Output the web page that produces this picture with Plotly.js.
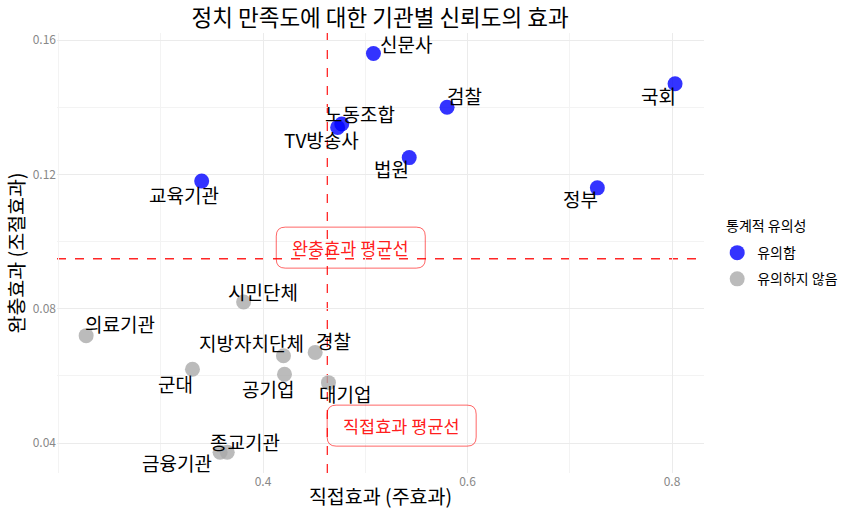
<!DOCTYPE html>
<html>
<head>
<meta charset="utf-8">
<script src="https://cdn.plot.ly/plotly-3.0.1.min.js"></script>
<style>
  html, body { margin: 0; padding: 0; background: #fff; }
  #chart { width: 860px; height: 516px; }
</style>
</head>
<body>
<div id="chart"></div>
<script>
// ---- data ----
const institutions = ['신문사', '검찰', '국회', '노동조합', 'TV방송사', '법원', '정부', '교육기관',
  '시민단체', '의료기관', '지방자치단체', '경찰', '군대', '공기업', '대기업', '종교기관', '금융기관'];
const directEffect = [0.508, 0.580, 0.803, 0.477, 0.473, 0.543, 0.727, 0.340,
  0.381, 0.227, 0.420, 0.451, 0.331, 0.421, 0.464, 0.365, 0.358];
const bufferEffect = [0.156, 0.140, 0.147, 0.135, 0.134, 0.125, 0.116, 0.118,
  0.082, 0.072, 0.066, 0.067, 0.062, 0.0605, 0.058, 0.0373, 0.0373];
const significance = ['유의함', '유의함', '유의함', '유의함', '유의함', '유의함', '유의함', '유의함',
  '유의하지 않음', '유의하지 않음', '유의하지 않음', '유의하지 않음', '유의하지 않음', '유의하지 않음',
  '유의하지 않음', '유의하지 않음', '유의하지 않음'];
const groups = ['유의함', '유의하지 않음'];
const legendTitle = '통계적 유의성';
const xTicks = [0.4, 0.6, 0.8];
const yTicks = [0.04, 0.08, 0.12, 0.16];

// ---- styling / layout helpers ----
const FONT = '"Noto Sans CJK KR", "Noto Sans", sans-serif';
const groupColor = { '유의함': 'rgba(0,0,255,0.8)', '유의하지 않음': 'rgba(170,170,170,0.8)' };
// label offsets in screen pixels [dx, dy(down)]
const labelOffset = {
  '신문사': [33, -10], '검찰': [17, -12], '국회': [-17, 12], '노동조합': [18, -11],
  'TV방송사': [-16, 12], '법원': [-18, 11], '정부': [-17, 11], '교육기관': [-18, 13],
  '시민단체': [19, -11], '의료기관': [34, -12], '지방자치단체': [-32, -13], '경찰': [18, -12],
  '군대': [-17, 14], '공기업': [-16, 14], '대기업': [17, 11], '종교기관': [18, -11], '금융기관': [-43, 10]
};

const mean = a => a.reduce((s, v) => s + v, 0) / a.length;
const meanX = mean(directEffect);
const meanY = mean(bufferEffect);

const traces = groups.map((g, gi) => {
  const idx = significance.map((s, i) => s === g ? i : -1).filter(i => i >= 0);
  return {
    type: 'scatter', mode: 'markers', name: g, legendgroup: 'g' + gi,
    x: idx.map(i => directEffect[i]),
    y: idx.map(i => bufferEffect[i]),
    text: idx.map(i => institutions[i]),
    marker: { color: groupColor[g], size: 15, line: { width: 0 } },
    hoverinfo: 'text'
  };
});

const annotations = institutions.map((name, i) => ({
  x: directEffect[i], y: bufferEffect[i], xref: 'x', yref: 'y',
  text: name, showarrow: false, xanchor: 'center', yanchor: 'middle',
  xshift: labelOffset[name][0], yshift: -labelOffset[name][1],
  font: { family: FONT, size: 19, color: '#000' }
}));

const boxLabels = [
  { text: '완충효과 평균선', x: 0.4858, y: 0.0982 },
  { text: '직접효과 평균선', x: 0.5356, y: 0.0452 }
];
boxLabels.forEach(b => annotations.push({
  x: b.x, y: b.y, xref: 'x', yref: 'y', text: b.text, showarrow: false,
  xanchor: 'center', yanchor: 'middle',
  font: { family: FONT, size: 17.5, color: 'rgba(255,0,0,0.9)' }
}));

// legend title as annotation for precise placement
annotations.push({
  xref: 'paper', yref: 'paper', x: 1.031, y: 0.5636, xanchor: 'left', yanchor: 'middle',
  text: legendTitle, showarrow: false, font: { family: FONT, size: 14, color: '#000' }
});

function roundedRect(w, h, r) {
  const a = w / 2, b = h / 2;
  return `M ${-a + r},${-b} L ${a - r},${-b} Q ${a},${-b} ${a},${-b + r} ` +
         `L ${a},${b - r} Q ${a},${b} ${a - r},${b} L ${-a + r},${b} Q ${-a},${b} ${-a},${b - r} ` +
         `L ${-a},${-b + r} Q ${-a},${-b} ${-a + r},${-b} Z`;
}

const shapes = [
  { type: 'line', xref: 'x', yref: 'paper', x0: meanX, x1: meanX, y0: 0, y1: 1, layer: 'between',
    line: { color: 'rgba(255,0,0,0.85)', width: 1.3, dash: 'dash' } },
  { type: 'line', xref: 'paper', yref: 'y', x0: 0, x1: 1, y0: meanY, y1: meanY, layer: 'between',
    line: { color: 'rgba(255,0,0,0.85)', width: 1.3, dash: 'dash' } }
];
boxLabels.forEach(b => shapes.push({
  type: 'path', xref: 'x', yref: 'y', xsizemode: 'pixel', ysizemode: 'pixel',
  xanchor: b.x, yanchor: b.y, path: roundedRect(149, 41, 9), layer: 'above',
  line: { color: 'rgba(255,0,0,0.6)', width: 1 }, fillcolor: 'rgba(0,0,0,0)'
}));

const layout = {
  width: 860, height: 516,
  margin: { l: 57, r: 156, t: 33, b: 43 },
  paper_bgcolor: '#fff', plot_bgcolor: '#fff',
  font: { family: FONT, color: '#000' },
  title: { text: '정치 만족도에 대한 기관별 신뢰도의 효과', x: 0.442, xanchor: 'center', y: 0.964, yanchor: 'middle',
    font: { family: FONT, size: 22.5, color: '#000' } },
  xaxis: {
    range: [0.1985, 0.8313], tickvals: xTicks, ticktext: xTicks.map(v => v.toFixed(1)),
    showline: false, zeroline: false, ticks: '', gridcolor: '#ebebeb', gridwidth: 1,
    minor: { dtick: 0.1, tick0: 0.3, showgrid: true, gridcolor: '#f3f3f3', gridwidth: 1 },
    tickfont: { family: FONT, size: 12, color: '#888' },
    title: { text: '직접효과 (주효과)', font: { family: FONT, size: 19.5, color: '#000' }, standoff: 2 }
  },
  yaxis: {
    range: [0.0311, 0.1621], tickvals: yTicks, ticktext: yTicks.map(v => v.toFixed(2)),
    showline: false, zeroline: false, ticks: '', gridcolor: '#ebebeb', gridwidth: 1,
    minor: { dtick: 0.02, tick0: 0.02, showgrid: true, gridcolor: '#f3f3f3', gridwidth: 1 },
    tickfont: { family: FONT, size: 12, color: '#888' },
    title: { text: '완충효과 (조절효과)', font: { family: FONT, size: 19.5, color: '#000' }, standoff: 2 }
  },
  showlegend: true,
  legend: {
    x: 1.0204, xanchor: 'left', y: 0.5363, yanchor: 'top',
    font: { family: FONT, size: 14, color: '#000' },
    traceorder: 'grouped', tracegroupgap: 5, bgcolor: 'rgba(0,0,0,0)'
  },
  annotations: annotations,
  shapes: shapes
};

Plotly.newPlot('chart', traces, layout, { displayModeBar: false, staticPlot: true });
</script>
</body>
</html>
